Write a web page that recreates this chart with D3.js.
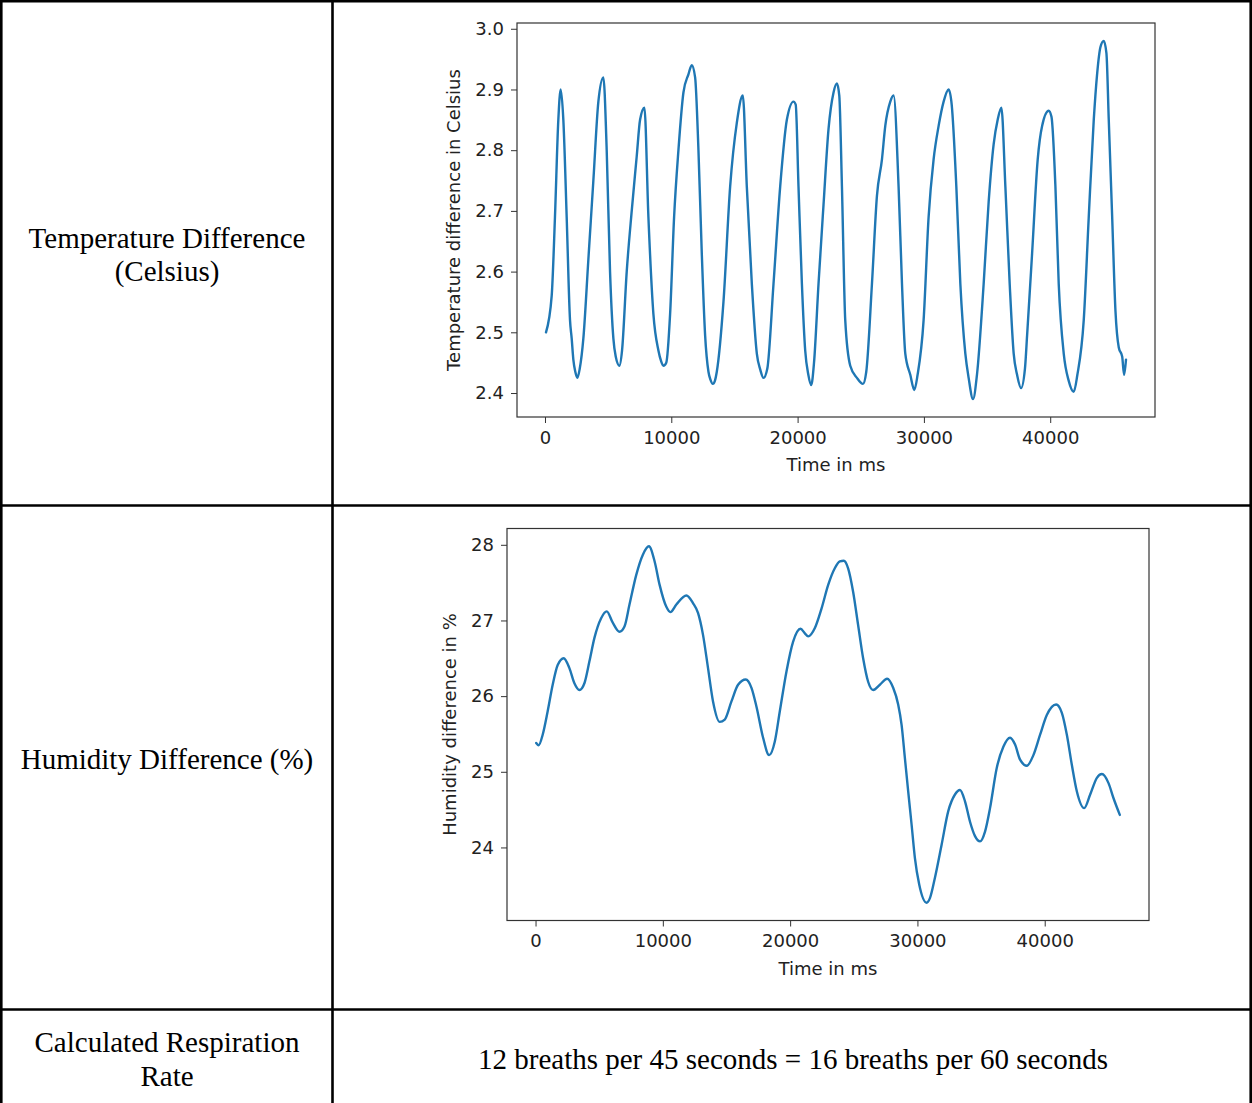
<!DOCTYPE html>
<html><head><meta charset="utf-8">
<script src="https://cdn.jsdelivr.net/npm/d3@7"></script>
<style>
html,body{margin:0;padding:0;background:#fff;}
svg{display:block;}
</style></head><body>
<svg id="c" width="1252" height="1103"></svg>
<script>
// ---- data ----
const tempTime = [80,530,790,1056,1241,1453,1717,1981,2113,2245,2400,2562,2750,3038,3434,3830,4226,4622,4886,5150,5414,5600,5890,6100,6471,6867,7263,7528,7871,8188,8584,8980,9200,9377,9600,9905,10222,10565,10961,11357,11621,11886,12150,12414,12678,12942,13100,13285,13450,13602,14130,14659,15187,15662,15979,16376,16772,17050,17300,17600,18093,18621,19149,19675,19850,20071,20340,20602,20850,21078,21300,21656,22052,22449,22845,23110,23300,23510,23772,24168,24699,25174,25436,25887,26283,26679,26941,27338,27599,27995,28264,28526,28922,29239,29500,29976,30372,30768,31165,31561,31957,32200,32567,32884,33280,33541,33890,34200,34731,35127,35523,35840,36133,36450,36791,37108,37377,37694,38000,38170,38566,39010,39358,39881,40100,40412,40673,41070,41466,41862,42150,42654,43051,43447,43711,43978,44239,44450,44635,44905,45166,45428,45697,45850,46000];
const tempValue = [2.50,2.56,2.69,2.85,2.90,2.85,2.69,2.52,2.49,2.455,2.435,2.425,2.44,2.49,2.62,2.75,2.88,2.92,2.80,2.60,2.49,2.46,2.445,2.47,2.60,2.70,2.79,2.85,2.87,2.69,2.53,2.47,2.452,2.445,2.45,2.53,2.69,2.80,2.895,2.925,2.94,2.92,2.80,2.63,2.495,2.435,2.422,2.415,2.42,2.435,2.55,2.74,2.845,2.89,2.74,2.58,2.465,2.438,2.425,2.44,2.58,2.74,2.85,2.88,2.875,2.74,2.58,2.47,2.43,2.413,2.45,2.58,2.71,2.835,2.895,2.91,2.89,2.74,2.52,2.445,2.425,2.415,2.435,2.58,2.725,2.785,2.84,2.88,2.89,2.74,2.58,2.465,2.43,2.405,2.43,2.52,2.69,2.785,2.84,2.88,2.90,2.875,2.74,2.58,2.465,2.425,2.39,2.43,2.58,2.715,2.81,2.85,2.87,2.74,2.58,2.465,2.43,2.408,2.44,2.495,2.63,2.785,2.84,2.865,2.855,2.74,2.58,2.465,2.42,2.402,2.43,2.52,2.69,2.85,2.925,2.97,2.98,2.96,2.85,2.69,2.535,2.475,2.46,2.43,2.455];

const humTime = [50,245,560,953,1347,1740,2212,2659,3053,3446,3839,4233,4626,5153,5594,6066,6593,6987,7380,7907,8432,8906,9355,9748,10276,10590,11063,11850,12369,12763,13156,13550,13943,14469,14863,15390,15909,16515,16963,17357,17876,18348,18797,19190,19717,20236,20818,21157,21417,21944,22471,22990,23509,23903,24217,24555,24948,25341,25735,26128,26522,27047,27622,28094,28488,28756,29016,29275,29543,29803,30141,30724,30983,31376,31904,32423,32950,33344,33737,34131,34524,34917,35311,35704,36231,36751,37278,37671,38065,38592,39111,39638,40165,40897,41346,41739,42133,42526,43100,43572,44099,44493,45012,45406,45900];
const humValue = [25.38,25.35,25.49,25.80,26.15,26.41,26.50,26.37,26.17,26.08,26.17,26.46,26.77,27.03,27.12,26.97,26.85,26.92,27.21,27.60,27.87,27.98,27.78,27.47,27.18,27.11,27.21,27.33,27.23,27.10,26.81,26.37,25.93,25.66,25.69,25.93,26.15,26.22,26.11,25.86,25.45,25.22,25.40,25.80,26.33,26.72,26.89,26.83,26.79,26.90,27.16,27.47,27.69,27.78,27.79,27.69,27.38,26.94,26.50,26.19,26.08,26.15,26.23,26.11,25.89,25.62,25.18,24.74,24.30,23.86,23.51,23.27,23.33,23.60,24.04,24.48,24.70,24.76,24.61,24.34,24.15,24.08,24.21,24.52,25.05,25.33,25.45,25.36,25.16,25.08,25.22,25.49,25.75,25.89,25.78,25.49,25.09,24.74,24.52,24.70,24.92,24.97,24.85,24.65,24.43];

const timeTicks = [0,10000,20000,30000,40000];
const tempTicks = [2.4,2.5,2.6,2.7,2.8,2.9,3.0];
const humTicks = [24,25,26,27,28];

const rowLabels = [["Temperature Difference","(Celsius)"],["Humidity Difference (%)"],["Calculated Respiration","Rate"]];
const resultText = "12 breaths per 45 seconds = 16 breaths per 60 seconds";
const xLabel = "Time in ms";
const tempYLabel = "Temperature difference in Celsius";
const humYLabel = "Humidity difference in %";

// ---- drawing ----
const svg = d3.select("#c");
const lineColor = "#1f77b4";
const sans = "'DejaVu Sans', sans-serif";
const axisFont = "18px";

function padded(arr){
  const [a,b] = d3.extent(arr);
  const m = (b-a)*0.05;
  return [a-m, b+m];
}

function drawChart(opt){
  const {times, values, box, yTicks, yFmt, yLabel, yLabelX} = opt;
  const x = d3.scaleLinear().domain(padded(times)).range([box.x0, box.x1]);
  const y = d3.scaleLinear().domain(padded(values)).range([box.y1, box.y0]);
  const g = svg.append("g");

  const pts = times.map((t,i)=>[t, values[i]]);
  g.append("path")
    .datum(pts)
    .attr("fill","none")
    .attr("stroke",lineColor)
    .attr("stroke-width",2.4)
    .attr("stroke-linejoin","round")
    .attr("stroke-linecap","round")
    .attr("d", d3.line().x(d=>x(d[0])).y(d=>y(d[1])).curve(d3.curveMonotoneX));

  const xa = g.append("g").attr("transform",`translate(0,${box.y1})`)
    .call(d3.axisBottom(x).tickValues(timeTicks).tickFormat(d3.format("d")).tickSize(6).tickPadding(8));
  const ya = g.append("g").attr("transform",`translate(${box.x0},0)`)
    .call(d3.axisLeft(y).tickValues(yTicks).tickFormat(d3.format(yFmt)).tickSize(6).tickPadding(7));
  [xa,ya].forEach(a=>{
    a.select(".domain").remove();
    a.selectAll(".tick line").attr("stroke","#333").attr("stroke-width",1);
    a.selectAll(".tick text").attr("fill","#222")
      .style("font-family",sans).style("font-size",axisFont);
  });

  g.append("rect")
    .attr("x",box.x0).attr("y",box.y0)
    .attr("width",box.x1-box.x0).attr("height",box.y1-box.y0)
    .attr("fill","none").attr("stroke","#333").attr("stroke-width",1.2);

  g.append("text")
    .attr("x",(box.x0+box.x1)/2).attr("y",box.y1+54)
    .attr("text-anchor","middle").attr("fill","#222")
    .style("font-family",sans).style("font-size",axisFont)
    .text(xLabel);

  g.append("text")
    .attr("transform",`translate(${yLabelX},${(box.y0+box.y1)/2}) rotate(-90)`)
    .attr("text-anchor","middle").attr("dominant-baseline","central").attr("fill","#222")
    .style("font-family",sans).style("font-size",axisFont)
    .text(yLabel);
}

drawChart({times:tempTime, values:tempValue, box:{x0:517,x1:1155,y0:23,y1:417},
  yTicks:tempTicks, yFmt:".1f", yLabel:tempYLabel, yLabelX:453});
drawChart({times:humTime, values:humValue, box:{x0:507,x1:1149,y0:528.5,y1:920.5},
  yTicks:humTicks, yFmt:"d", yLabel:humYLabel, yLabelX:449});

// table borders
const border = svg.append("g").attr("stroke","#000").attr("stroke-width",2.6).attr("fill","none");
border.append("line").attr("x1",0).attr("x2",1252).attr("y1",1.3).attr("y2",1.3);
border.append("line").attr("x1",1.3).attr("x2",1.3).attr("y1",0).attr("y2",1103);
border.append("line").attr("x1",1250.7).attr("x2",1250.7).attr("y1",0).attr("y2",1103);
border.append("line").attr("x1",332.5).attr("x2",332.5).attr("y1",0).attr("y2",1103);
border.append("line").attr("x1",0).attr("x2",1252).attr("y1",505.5).attr("y2",505.5);
border.append("line").attr("x1",0).attr("x2",1252).attr("y1",1009.5).attr("y2",1009.5);

// cell texts
const serif = "'Liberation Serif', 'Times New Roman', serif";
const rowBaselines = [[248,281],[769],[1052,1086]];
rowLabels.forEach((lines,r)=>{
  lines.forEach((s,i)=>{
    svg.append("text").attr("x",167).attr("y",rowBaselines[r][i])
      .attr("text-anchor","middle").attr("fill","#000")
      .style("font-family",serif).style("font-size","29px").text(s);
  });
});
svg.append("text").attr("x",793).attr("y",1069)
  .attr("text-anchor","middle").attr("fill","#000")
  .style("font-family",serif).style("font-size","29px").text(resultText);
</script>
</body></html>
